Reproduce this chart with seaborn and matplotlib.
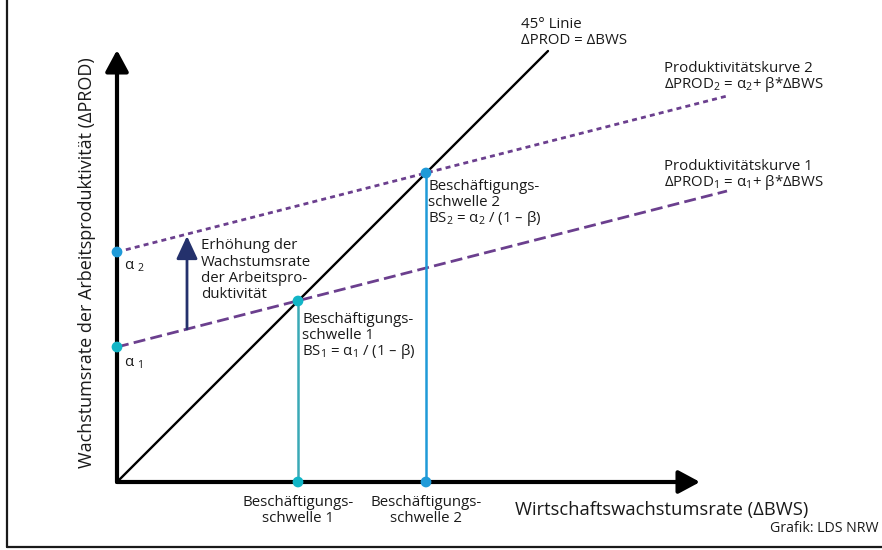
#!/usr/bin/env python3
"""
Beschaeftigungsschwelle - Schema (Produktivitaetskurven vs. 45-Grad-Linie)
"""

import pandas as pd
import matplotlib.pyplot as plt
import seaborn as sns
from matplotlib.patches import FancyArrowPatch
from matplotlib.lines import Line2D

# Data (schematic units)
linie45_x = [0, 43.1]
linie45_y = [0, 43.1]
kurve_x = [0, 61.0]
kurve1_y = [13.5, 29.1]
kurve2_y = [23.0, 38.6]
alpha_werte = [13.5, 23.0]
schwellen = [18.1, 30.9]
erhoehung_x = 7.0
erhoehung_y = [15.3, 24.6]

achse_x_ende = 58.3
achse_y_ende = 43.2

PURPLE = '#6b3f8e'
TEAL = '#12b5c6'
TEAL_LINE = '#3aa9b6'
BLUE = '#1f9ad8'
NAVY = '#24316c'
TXT = '#1a1a1a'


def block(ax, x, y0, lines, step=1.6, fs=10.8, ha='left'):
    """Write lines of text with fixed baseline spacing (data units)"""
    for i, line in enumerate(lines):
        ax.text(x, y0 - i * step, line, fontsize=fs, ha=ha, va='baseline')


def main():
    sns.set_style('white')
    plt.rcParams['font.family'] = ['Open Sans', 'DejaVu Sans']
    plt.rcParams['mathtext.default'] = 'regular'
    plt.rcParams['text.color'] = TXT

    fig = plt.figure(figsize=(8.82, 5.5), dpi=100)
    ax = fig.add_axes([0, 0, 1, 1])
    ax.set_xlim(-11.7, 76.5)
    ax.set_ylim(-6.8, 48.2)
    ax.axis('off')

    # outer frame (left + bottom)
    yb = 1 - 547 / 550
    fig.add_artist(Line2D([7 / 882, 7 / 882], [yb, 1], transform=fig.transFigure,
                          color='#1a1a1a', lw=1.6))
    fig.add_artist(Line2D([7 / 882, 1], [yb, yb], transform=fig.transFigure,
                          color='#1a1a1a', lw=1.6))

    # axes with arrows
    for end in [(achse_x_ende, 0), (0, achse_y_ende)]:
        ax.add_patch(FancyArrowPatch((0, 0), end, arrowstyle='-|>,head_length=13,head_width=7',
                                     mutation_scale=1, lw=3, color='black',
                                     shrinkA=0, shrinkB=0, zorder=3))

    # lines
    lines = pd.DataFrame({'x': linie45_x, 'y': linie45_y})
    sns.lineplot(data=lines, x='x', y='y', ax=ax, color='black', lw=1.7, zorder=2)

    k1 = pd.DataFrame({'x': kurve_x, 'y': kurve1_y})
    k2 = pd.DataFrame({'x': kurve_x, 'y': kurve2_y})
    sns.lineplot(data=k1, x='x', y='y', ax=ax, color=PURPLE, lw=2.0, zorder=2)
    ax.lines[-1].set_dashes([4.3, 1.9])
    sns.lineplot(data=k2, x='x', y='y', ax=ax, color=PURPLE, lw=2.0, zorder=2)
    ax.lines[-1].set_dashes([1.8, 1.5])

    # vertical threshold lines
    for bs, col in zip(schwellen, [TEAL_LINE, BLUE]):
        vl = pd.DataFrame({'x': [bs, bs], 'y': [0, bs]})
        sns.lineplot(data=vl, x='x', y='y', ax=ax, color=col, lw=1.8,
                     estimator=None, sort=False, zorder=2)

    # points
    pts = pd.DataFrame({
        'x': [0, 0, schwellen[0], schwellen[0], schwellen[1], schwellen[1]],
        'y': [alpha_werte[0], alpha_werte[1], schwellen[0], 0, schwellen[1], 0],
        'c': ['a', 'b', 'a', 'a', 'b', 'b'],
    })
    sns.scatterplot(data=pts, x='x', y='y', hue='c', palette={'a': TEAL, 'b': BLUE},
                    s=60, edgecolor='none', legend=False, ax=ax, zorder=5)

    # Erhoehung arrow
    ax.add_patch(FancyArrowPatch((erhoehung_x, erhoehung_y[0]), (erhoehung_x, erhoehung_y[1]),
                                 arrowstyle='-|>,head_length=14,head_width=6.5',
                                 mutation_scale=1, lw=2, color=NAVY,
                                 shrinkA=0, shrinkB=0, zorder=4))

    # annotations
    block(ax, 40.4, 45.4, ['45° Linie', 'ΔPROD = ΔBWS'])
    block(ax, 54.7, 41.0, ['Produktivitätskurve 2', 'ΔPROD$_2$ = α$_2$+ β*ΔBWS'])
    block(ax, 54.7, 31.2, ['Produktivitätskurve 1', 'ΔPROD$_1$ = α$_1$+ β*ΔBWS'])
    block(ax, 31.1, 29.2, ['Beschäftigungs-', 'schwelle 2', 'BS$_2$ = α$_2$ / (1 – β)'])
    block(ax, 18.5, 15.9, ['Beschäftigungs-', 'schwelle 1', 'BS$_1$ = α$_1$ / (1 – β)'])
    block(ax, 8.4, 23.3, ['Erhöhung der', 'Wachstumsrate', 'der Arbeitspro-', 'duktivität'],
          step=1.65)
    ax.text(0.7, 21.2, 'α $_2$', fontsize=10.8, va='baseline', ha='left')
    ax.text(0.7, 11.5, 'α $_1$', fontsize=10.8, va='baseline', ha='left')
    for i, bs in enumerate(schwellen):
        block(ax, bs, -2.4, ['Beschäftigungs-', 'schwelle %d' % (i + 1)], ha='center')

    ax.text(39.8, -2.8, 'Wirtschaftswachstumsrate (ΔBWS)', fontsize=13.2, va='center', ha='left')
    ax.text(-3.0, 21.9, 'Wachstumsrate der Arbeitsproduktivität (ΔPROD)', fontsize=13,
            va='center', ha='center', rotation=90)
    ax.text(76.1, -4.6, 'Grafik: LDS NRW', fontsize=10.2, va='center', ha='right')

    plt.savefig('out.png', dpi=100)
    plt.close()


if __name__ == "__main__":
    main()
